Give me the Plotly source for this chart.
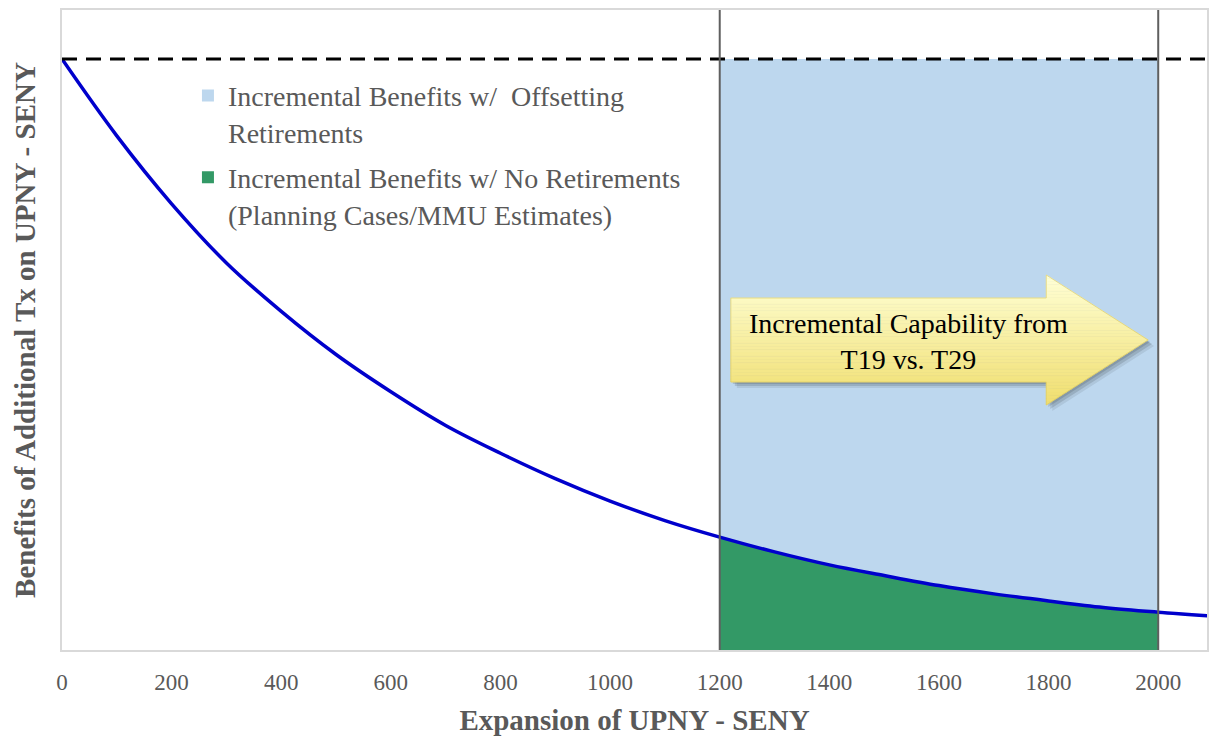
import plotly.graph_objects as go

# ---------------- data ----------------
expansion = [0, 100, 200, 300, 400, 500, 600, 700, 800, 900, 1000, 1100, 1200,
             1300, 1400, 1500, 1600, 1700, 1800, 1900, 2000, 2090]
benefits = [1.0, 0.87, 0.755, 0.655, 0.573, 0.50, 0.437, 0.38, 0.333, 0.29, 0.252,
            0.219, 0.191, 0.166, 0.144, 0.126, 0.109, 0.095, 0.083, 0.072, 0.064, 0.058]
region_bounds = [1200, 2000]          # T29 vs T19 capability
max_benefit = 1.0                      # dashed reference level
tick_values = [0, 200, 400, 600, 800, 1000, 1200, 1400, 1600, 1800, 2000]
legend_names = ["Incremental Benefits w/  Offsetting<br>Retirements",
                "Incremental Benefits w/ No Retirements<br>(Planning Cases/MMU Estimates)"]
arrow_text = "Incremental Capability from<br>T19 vs. T29"

LIGHT_BLUE = "#BDD7EE"
GREEN = "#339966"
GRAY_TXT = "#595959"
FONT = "Liberation Serif"

# ---------------- figure geometry ----------------
W, H = 1209, 739
ML, MR, MT, MB = 62, 0, 10, 89
X_MAX = 2089
Y_MAX = 1.083

seg_x = [x for x in expansion if region_bounds[0] <= x <= region_bounds[1]]
seg_y = [y for x, y in zip(expansion, benefits) if region_bounds[0] <= x <= region_bounds[1]]

fig = go.Figure()

# light-blue region between curve and max level
fig.add_trace(go.Scatter(
    x=seg_x + seg_x[::-1], y=seg_y + [max_benefit] * len(seg_x),
    fill="toself", fillcolor=LIGHT_BLUE, line=dict(width=0), mode="lines",
    showlegend=False, hoverinfo="skip"))
# green region under curve
fig.add_trace(go.Scatter(
    x=seg_x, y=seg_y, fill="tozeroy", fillcolor=GREEN, line=dict(width=0),
    mode="lines", showlegend=False, hoverinfo="skip"))
# benefit curve
fig.add_trace(go.Scatter(
    x=expansion, y=benefits, mode="lines", line=dict(color="#0000CC", width=3.5, shape="spline"),
    showlegend=False))
# legend entries
for i, (name, col) in enumerate(zip(legend_names, [LIGHT_BLUE, GREEN])):
    fig.add_trace(go.Scatter(
        x=[None], y=[None], mode="markers", name=name, legendgroup=f"g{i}",
        marker=dict(symbol="square", size=12, color=col)))

shapes = []
# dashed max line
shapes.append(dict(type="line", xref="paper", yref="y", x0=0, x1=1,
                   y0=max_benefit, y1=max_benefit,
                   line=dict(color="black", width=3, dash="15px,9px")))
# vertical boundaries
for b in region_bounds:
    shapes.append(dict(type="line", xref="x", yref="paper", x0=b, x1=b, y0=0, y1=1,
                       line=dict(color="#5F5F5F", width=2)))

# ---------- block arrow (decoration, pixel-defined) ----------
PW = W - ML - MR
PH = H - MT - MB
def px2paper(px, py):
    return (px - ML) / PW, (H - MB - py) / PH

L, HB, T = 732, 1048, 1150
bodyTop, bodyBot, headTop, headBot, tipY = 298, 382, 275, 405, 340

def right_edge(y):
    if y <= tipY:
        return HB + (T - HB) * (y - headTop) / (tipY - headTop)
    return HB + (T - HB) * (headBot - y) / (headBot - tipY)

def poly_path(pts):
    s = ""
    for i, (px, py) in enumerate(pts):
        xp, yp = px2paper(px, py)
        s += ("M" if i == 0 else "L") + f"{xp:.5f},{yp:.5f} "
    return s + "Z"

outline = [(L, bodyTop), (HB, bodyTop), (HB, headTop), (T, tipY), (HB, headBot),
           (HB, bodyBot), (L, bodyBot)]
# soft shadow
for off, a in [(6, 0.08), (4, 0.12), (2, 0.12)]:
    shapes.append(dict(type="path", xref="paper", yref="paper",
                       path=poly_path([(x + off, y + off) for x, y in outline]),
                       fillcolor=f"rgba(0,0,0,{a})", line=dict(width=0)))

def lerp_col(c0, c1, t):
    return "rgb(%d,%d,%d)" % tuple(round(a + (b - a) * t) for a, b in zip(c0, c1))

top_c, bot_c = (255, 255, 214), (240, 222, 110)
breaks = [headTop, bodyTop, tipY, bodyBot, headBot]
ys_b = sorted(set([headTop + i * (headBot - headTop) / 40 for i in range(41)] + breaks))
for y0, y1 in zip(ys_b[:-1], ys_b[1:]):
    ym = (y0 + y1) / 2
    left = L if bodyTop <= ym <= bodyBot else HB
    pts = [(left, y0), (right_edge(y0), y0)]
    if y0 < tipY < y1:
        pts.append((T, tipY))
    pts += [(right_edge(y1), y1), (left, y1)]
    t = (ym - headTop) / (headBot - headTop)
    col = lerp_col(top_c, bot_c, t)
    shapes.append(dict(type="path", xref="paper", yref="paper", path=poly_path(pts),
                       fillcolor=col, line=dict(color=col, width=0.6)))
shapes.append(dict(type="path", xref="paper", yref="paper", path=poly_path(outline),
                   fillcolor="rgba(0,0,0,0)", line=dict(color="rgba(220,200,90,0.6)", width=1)))

ax, ay = px2paper(910, 341)
annotations = [dict(xref="paper", yref="paper", x=ax, y=ay, xanchor="center", yanchor="middle",
                    text=arrow_text, showarrow=False,
                    font=dict(family=FONT, size=28, color="black"), align="center")]

fig.update_layout(
    width=W, height=H, autosize=False,
    margin=dict(l=ML, r=MR, t=MT, b=MB),
    paper_bgcolor="white", plot_bgcolor="white",
    shapes=shapes, annotations=annotations,
    xaxis=dict(range=[0, X_MAX], tickvals=tick_values, showgrid=False, zeroline=False,
               showline=True, mirror=True, linecolor="#D9D9D9", linewidth=1.5,
               ticks="", ticklabelstandoff=11,
               tickfont=dict(family=FONT, size=23, color=GRAY_TXT),
               title=dict(text="<b>Expansion of UPNY - SENY</b>", standoff=15,
                          font=dict(family=FONT, size=29, color=GRAY_TXT))),
    yaxis=dict(range=[0, Y_MAX], showticklabels=False, showgrid=False, zeroline=False,
               showline=True, mirror=True, linecolor="#D9D9D9", linewidth=1.5, ticks="",
               title=dict(text="<b>Benefits of Additional Tx on UPNY - SENY</b>", standoff=16,
                          font=dict(family=FONT, size=29, color=GRAY_TXT))),
    legend=dict(x=0.11, y=0.905, xanchor="left", yanchor="top", valign="top",
                bgcolor="rgba(0,0,0,0)", font=dict(family=FONT, size=28, color=GRAY_TXT),
                itemsizing="trace", tracegroupgap=6),
    showlegend=True,
)

fig.write_html("out.html", config={"displayModeBar": False},
               post_script="document.body.style.margin='0';")
